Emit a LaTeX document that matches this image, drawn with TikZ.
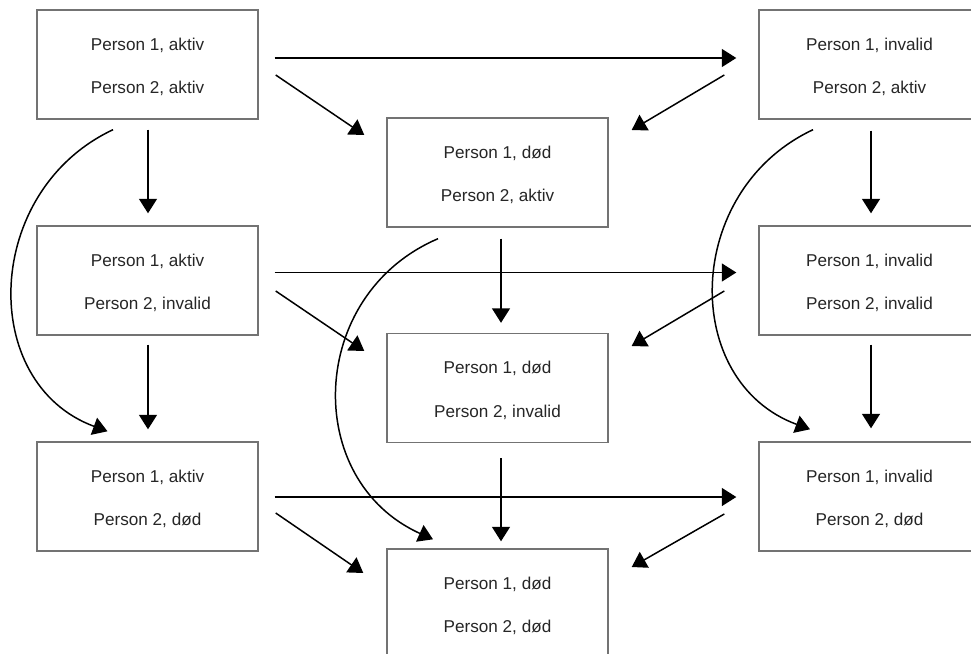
\documentclass[tikz,border=0pt]{standalone}
\usepackage{fontspec}
\setmainfont{Liberation Sans}
\usetikzlibrary{arrows.meta}
\tikzset{
  sb/.style={rectangle, draw=black!55, line width=0.8pt, fill=white,
             minimum width=4.42cm, inner sep=0pt, text height=16.7mm, text depth=5.1mm,
             align=center, text=black!85, font=\fontsize{9.75}{24.6}\selectfont}, % state box
  ta/.style={draw=black, line width=0.85pt, -{Triangle[length=2.9mm,width=3.6mm]}}, % transition
}

\begin{document}
\begin{tikzpicture}[x=0.2mm, y=-0.2mm]
  \clip (0,0) rectangle (971,653);
  \node[sb] (a1) at (147.5,64.5)  {Person 1, aktiv\\Person 2, aktiv};
  \node[sb] (a2) at (147.5,280.5) {Person 1, aktiv\\Person 2, invalid};
  \node[sb] (a3) at (147.5,496.5) {Person 1, aktiv\\Person 2, død};
  \node[sb] (m1) at (497.5,172.5) {Person 1, død\\Person 2, aktiv};
  \node[sb] (m2) at (497.5,388)   {Person 1, død\\Person 2, invalid};
  \node[sb] (m3) at (497.5,603.5) {Person 1, død\\Person 2, død};
  \node[sb] (r1) at (869.5,64.5)  {Person 1, invalid\\Person 2, aktiv};
  \node[sb] (r2) at (869.5,280.5) {Person 1, invalid\\Person 2, invalid};
  \node[sb] (r3) at (869.5,496.5) {Person 1, invalid\\Person 2, død};
  % left to right
  \foreach \r/\dy in {1/-6.5,2/-8,3/0.5}
    \draw[ta] ([shift={(16,\dy)}]a\r.east) -- ([shift={(-22,\dy)}]r\r.west);
  % into the middle column
  \foreach \r/\sy/\ex/\ey in {1/10.5/-22/-37.5,2/10.5/-22/-37,3/16.5/-23/-30.5}
    \draw[ta] ([shift={(17,\sy)}]a\r.east) -- ([shift={(\ex,\ey)}]m\r.west);
  \foreach \r/\sy/\ey in {1/10.5/-42.5,2/10.5/-42,3/17.5/-36.5}
    \draw[ta] ([shift={(-34,\sy)}]r\r.west) -- ([shift={(23,\ey)}]m\r.east);
  % down each column
  \foreach \u/\v/\dx/\s/\e in {a1/a2/0.5/10/-12,a2/a3/0.5/9/-12,m1/m2/3.5/11/-10,
                               m2/m3/3.5/15/-7,r1/r2/1.5/11/-12,r2/r3/1.5/9/-13}
    \draw[ta] ([shift={(\dx,\s)}]\u.south) -- ([shift={(\dx,\e)}]\v.north);
  % skipping one row
  \draw[ta] ([shift={(-34.5,10)}]a1.south) .. controls +(-130,61) and +(-130,-48) .. ([shift={(-40,-10)}]a3.north);
  \draw[ta] ([shift={(-59.5,11)}]m1.south) .. controls +(-131,56) and +(-131,-59) .. ([shift={(-64.5,-9)}]m3.north);
  \draw[ta] ([shift={(-56.5,10)}]r1.south) .. controls +(-130,61) and +(-130,-48) .. ([shift={(-59.5,-12)}]r3.north);
\end{tikzpicture}
\end{document}
